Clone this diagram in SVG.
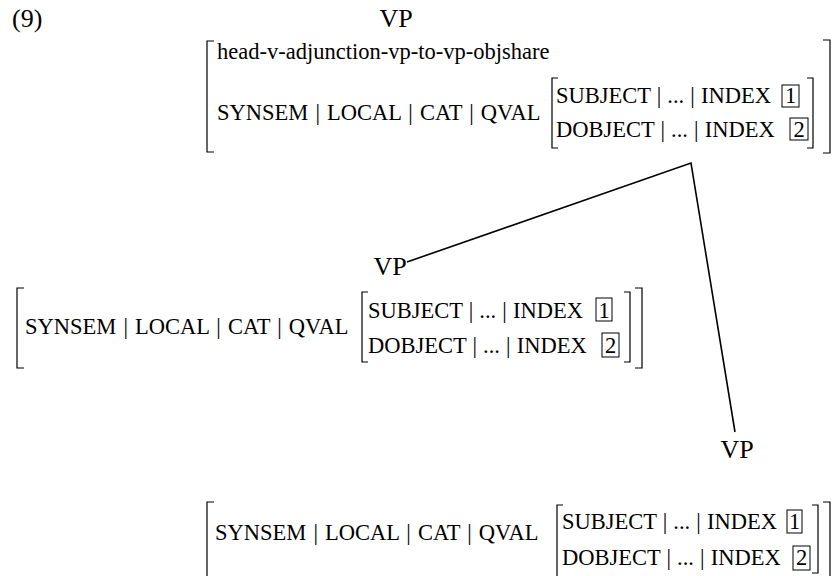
<svg xmlns="http://www.w3.org/2000/svg" width="837" height="576" viewBox="0 0 837 576">
<style>
text{font-family:"Liberation Serif","Times New Roman",serif;fill:#000;font-size:22.5px}
.big{font-size:26px}
.f{word-spacing:1.5px}
.g{word-spacing:0.5px}
.br{fill:none;stroke:#000;stroke-width:1.2}
.box{fill:none;stroke:#000;stroke-width:1}
.edge{fill:none;stroke:#000;stroke-width:1.6}
</style>
<rect width="837" height="576" fill="#fff"/>
<text x="12" y="27" class="big">(9)</text>

<g id="vp-top">
<text x="396" y="27" class="big" text-anchor="middle">VP</text>
<path class="br" d="M214,41 H207 V152 H214"/>
<path class="br" d="M823,40 H830 V153 H823"/>
<path class="br" d="M558,78 H552 V148 H558"/>
<path class="br" d="M807,78 H813 V148 H807"/>
<text x="217" y="59">head-v-adjunction-vp-to-vp-objshare</text>
<text x="217" y="120" class="f">SYNSEM | LOCAL | CAT | QVAL</text>
<text x="556" y="103" class="g">SUBJECT | ... | INDEX</text>
<text x="556" y="137" class="g">DOBJECT | ... | INDEX</text>
<rect class="box" x="782" y="85" width="17" height="22"/>
<text x="790.5" y="103" text-anchor="middle">1</text>
<rect class="box" x="790" y="118" width="18" height="22"/>
<text x="799" y="137" text-anchor="middle">2</text>
</g>

<g id="vp-left">
<text x="390" y="275" class="big" text-anchor="middle">VP</text>
<path class="br" d="M24,288 H17 V368 H24"/>
<path class="br" d="M635,288 H642 V368 H635"/>
<path class="br" d="M368,292 H362 V362 H368"/>
<path class="br" d="M624,292 H630 V362 H624"/>
<text x="25" y="334" class="f">SYNSEM | LOCAL | CAT | QVAL</text>
<text x="368" y="318" class="g">SUBJECT | ... | INDEX</text>
<text x="368" y="353" class="g">DOBJECT | ... | INDEX</text>
<rect class="box" x="596" y="298" width="16" height="23"/>
<text x="604" y="318" text-anchor="middle">1</text>
<rect class="box" x="602" y="333" width="17" height="24"/>
<text x="610.5" y="353" text-anchor="middle">2</text>
</g>

<g id="vp-right">
<text x="737" y="458" class="big" text-anchor="middle">VP</text>
<path class="br" d="M214,502 H207 V580"/>
<path class="br" d="M823,502 H830 V580"/>
<path class="br" d="M563,505 H557 V580"/>
<path class="br" d="M812,505 H818 V573 H812"/>
<text x="215" y="540" class="f">SYNSEM | LOCAL | CAT | QVAL</text>
<text x="562" y="529" class="g">SUBJECT | ... | INDEX</text>
<text x="562" y="565" class="g">DOBJECT | ... | INDEX</text>
<rect class="box" x="787" y="510" width="15" height="23"/>
<text x="794.5" y="529" text-anchor="middle">1</text>
<rect class="box" x="793" y="546" width="17" height="24"/>
<text x="801.5" y="565" text-anchor="middle">2</text>
</g>

<g id="connectors">
<path class="edge" d="M407,262 L691,163 L735,432"/>
</g>
</svg>
